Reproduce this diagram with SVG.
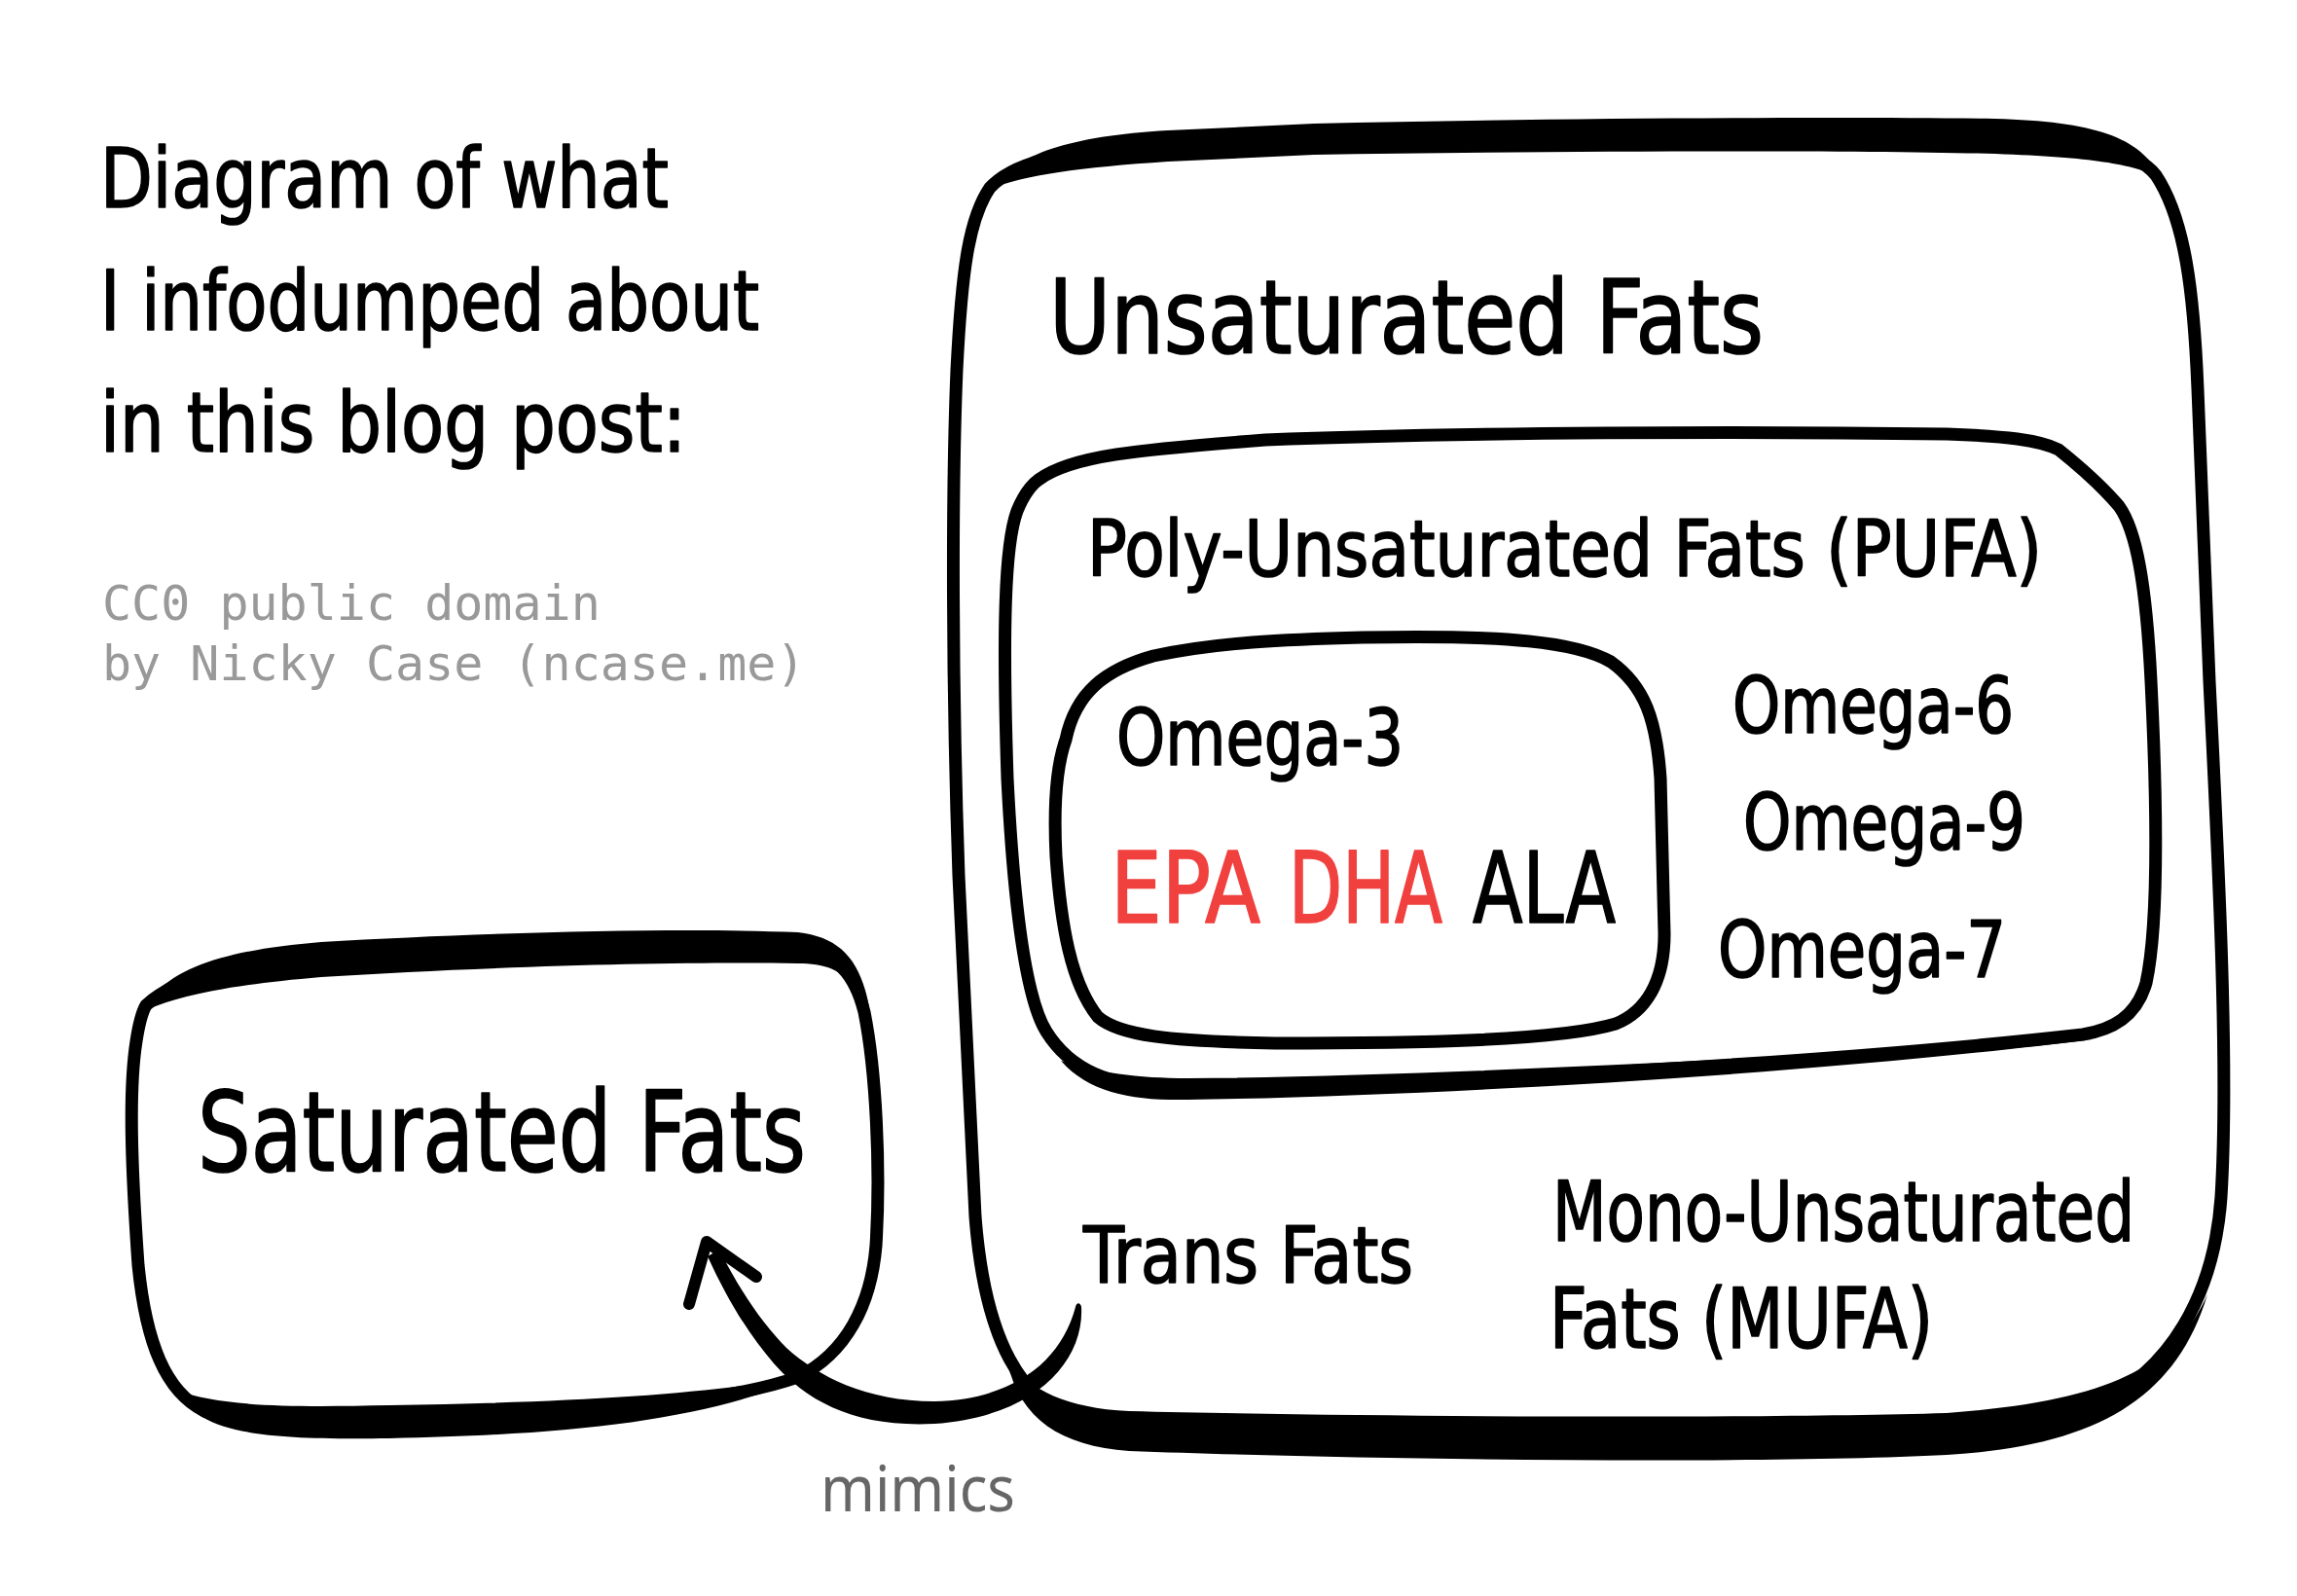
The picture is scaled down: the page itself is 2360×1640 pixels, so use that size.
<svg xmlns="http://www.w3.org/2000/svg" width="2360" height="1640" viewBox="0 0 2360 1640">
<style>
.hand{font-family:"Liberation Sans Narrow","DejaVu Sans Condensed","Liberation Sans",sans-serif;fill:#000;stroke:#000;stroke-width:1.6;stroke-linejoin:round}
.mono{font-family:"DejaVu Sans Mono","Liberation Mono",monospace;fill:#999;font-size:50px}
.box{fill:none;stroke:#000;stroke-width:13;stroke-linejoin:round;stroke-linecap:round}
.ink{fill:#000;stroke:none}
.red{fill:#f0413f;stroke:#f0413f}
.link{fill:none;stroke:#000;stroke-width:12;stroke-linecap:round;stroke-linejoin:round}
.lbl{font-family:"Noto Sans","Open Sans",sans-serif;fill:#666;font-size:66px}
</style>
<rect width="2360" height="1640" fill="#fff"/>

<g id="title">
<text class="hand" x="103" y="213" font-size="86" textLength="584" lengthAdjust="spacingAndGlyphs">Diagram of what</text>
<text class="hand" x="103" y="339" font-size="86" textLength="677" lengthAdjust="spacingAndGlyphs">I infodumped about</text>
<text class="hand" x="103" y="464" font-size="86" textLength="602" lengthAdjust="spacingAndGlyphs">in this blog post:</text>
</g>
<g id="credit">
<text class="mono" x="105" y="637">CC0 public domain</text>
<text class="mono" x="105" y="699">by Nicky Case (ncase.me)</text>
</g>

<g id="unsaturated">
<path class="box" d="M 1017,193 C 1045,163 1100,155 1200,150 L 1350,143 C 1600,137 1900,136 2050,140 C 2150,144 2195,155 2215,180 C 2245,225 2254,300 2258,400 L 2270,700 C 2280,900 2290,1100 2282,1230 C 2275,1330 2230,1410 2150,1445 C 2000,1470 1800,1472 1600,1472 C 1400,1470 1200,1466 1110,1462 C 1050,1440 1012,1380 1002,1250 L 985,900 C 978,700 978,500 983,380 C 988,280 995,225 1017,193 Z"/>
<path class="ink" d="M 1018,194 C 1045,158 1098,140 1200,134 L 1350,127 C 1600,121 1900,120 2050,122 C 2150,125 2200,140 2220,183 C 2190,168 2150,162 2050,158 C 1900,154 1600,155 1350,159 L 1200,166 C 1110,172 1052,180 1018,194 Z"/>
<path class="ink" d="M 1035,1400 C 1048,1458 1090,1486 1160,1491 C 1400,1500 1800,1505 2000,1495 C 2150,1486 2235,1440 2268,1330 C 2235,1405 2165,1440 2000,1452 C 1800,1458 1400,1456 1160,1450 C 1095,1447 1060,1428 1035,1400 Z"/>
<text class="hand" x="1078" y="363" font-size="106" textLength="734" lengthAdjust="spacingAndGlyphs">Unsaturated Fats</text>
</g>

<g id="pufa">
<path class="box" stroke-width="14" d="M 1067,493 C 1100,468 1170,462 1300,452 C 1500,444 1800,443 2000,446 C 2060,448 2095,452 2115,462 C 2135,478 2160,500 2177,520 C 2195,545 2205,600 2210,700 C 2216,820 2218,950 2205,1010 C 2195,1045 2170,1058 2140,1063 C 1900,1090 1500,1115 1200,1118 C 1140,1116 1100,1100 1075,1060 C 1050,1020 1040,900 1035,800 C 1030,650 1032,560 1045,525 C 1052,508 1060,498 1067,493 Z"/>
<path class="ink" d="M 1090,1090 C 1120,1124 1165,1131 1220,1130 C 1500,1126 1900,1100 2150,1068 C 1900,1082 1500,1106 1220,1108 C 1170,1108 1125,1102 1090,1090 Z"/>
<text class="hand" x="1117" y="592" font-size="80" textLength="981" lengthAdjust="spacingAndGlyphs">Poly-Unsaturated Fats (PUFA)</text>
<text class="hand" x="1780" y="753" font-size="80" textLength="289" lengthAdjust="spacingAndGlyphs">Omega-6</text>
<text class="hand" x="1791" y="873" font-size="80" textLength="290" lengthAdjust="spacingAndGlyphs">Omega-9</text>
<text class="hand" x="1765" y="1004" font-size="80" textLength="296" lengthAdjust="spacingAndGlyphs">Omega-7</text>
</g>

<g id="omega3">
<path class="box" stroke-width="16" d="M 1095,760 C 1105,712 1135,688 1185,674 C 1250,660 1320,657 1400,655 C 1550,652 1620,660 1655,680 C 1690,705 1702,740 1706,800 L 1710,960 C 1710,1010 1690,1040 1660,1052 C 1600,1070 1450,1072 1310,1072 C 1200,1070 1150,1064 1128,1045 C 1100,1010 1090,950 1085,880 C 1082,820 1086,785 1095,760 Z"/>
<text class="hand" x="1147" y="786" font-size="81" textLength="295" lengthAdjust="spacingAndGlyphs">Omega-3</text>
<text class="hand red" x="1141" y="948" font-size="102" textLength="154" lengthAdjust="spacingAndGlyphs">EPA</text>
<text class="hand red" x="1324" y="948" font-size="102" textLength="158" lengthAdjust="spacingAndGlyphs">DHA</text>
<text class="hand" x="1513" y="948" font-size="102" textLength="147" lengthAdjust="spacingAndGlyphs">ALA</text>
</g>

<g id="saturated">
<path class="box" d="M 150,1033 C 180,1005 230,992 330,985 C 500,975 700,972 820,975 C 860,980 878,1000 888,1040 C 900,1100 905,1200 900,1280 C 895,1340 870,1390 820,1415 C 750,1440 600,1456 400,1460 C 300,1462 240,1460 210,1450 C 170,1430 150,1380 142,1300 C 135,1200 132,1120 140,1070 C 143,1050 146,1040 150,1033 Z"/>
<path class="ink" d="M 146,1040 C 168,995 232,976 330,968 C 500,958 700,953 820,958 C 862,963 884,985 893,1035 C 872,998 852,990 820,990 C 700,988 500,993 330,1004 C 235,1012 178,1024 146,1040 Z"/>
<path class="ink" d="M 180,1428 C 205,1472 262,1480 400,1478 C 600,1474 730,1458 835,1412 C 740,1432 600,1441 400,1444 C 300,1446 228,1446 180,1428 Z"/>
<text class="hand" x="203" y="1203" font-size="114" textLength="625" lengthAdjust="spacingAndGlyphs">Saturated Fats</text>
</g>

<g id="trans">
<text class="hand" x="1113" y="1318" font-size="81" textLength="339" lengthAdjust="spacingAndGlyphs">Trans Fats</text>
</g>

<g id="mufa">
<text class="hand" x="1595" y="1275" font-size="85" textLength="598" lengthAdjust="spacingAndGlyphs">Mono-Unsaturated</text>
<text class="hand" x="1592" y="1385" font-size="85" textLength="394" lengthAdjust="spacingAndGlyphs">Fats (MUFA)</text>
</g>

<g id="connectors">
<path class="ink" d="M 1111,1343 C 1114,1400 1062,1456 960,1463 C 880,1467 830,1441 795,1401 C 770,1372 748,1337 727,1291 L 739,1284 C 761,1328 785,1362 808,1385 C 840,1414 890,1440 960,1440 C 1040,1438 1090,1400 1105,1343 C 1106,1338 1110,1338 1111,1343 Z"/>
<path class="link" d="M 708,1340 L 726,1276 L 777,1312"/>
<text class="lbl" x="843" y="1553" textLength="200" lengthAdjust="spacingAndGlyphs">mimics</text>
</g>
</svg>
